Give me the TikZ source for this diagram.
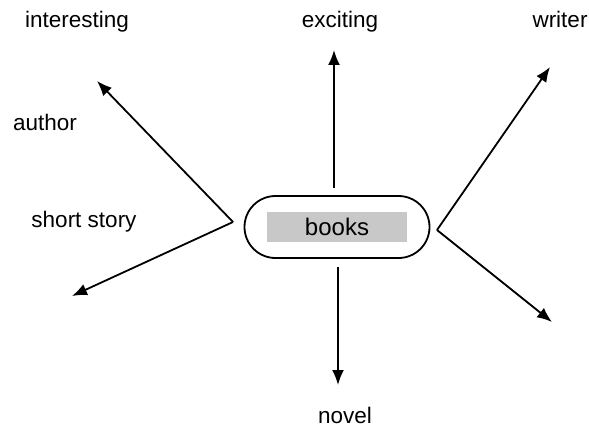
\documentclass[tikz,border=0pt]{standalone}
\usepackage{fontspec}
\setmainfont{Liberation Sans}
\usetikzlibrary{arrows.meta, positioning}
\definecolor{shadegray}{RGB}{200,200,200}

\begin{document}
\begin{tikzpicture}[
      x=1pt, y=-1pt,
      pill/.style={rectangle, rounded corners=31pt, draw, line width=1.8pt,
        minimum width=185pt, minimum height=62pt, text centered,
        font=\fontsize{24}{28}\selectfont},
      shadebox/.style={rectangle, fill=shadegray,
        minimum width=140pt, minimum height=30pt},
      word/.style={anchor=base, inner sep=0pt, font=\fontsize{22.5}{27}\selectfont},
      arrow/.style={-{Latex[length=15pt, width=12pt]}, line width=1.8pt}
    ]
      \useasboundingbox (0,0) rectangle (589,428);

      % Center
      \node[shadebox] (shade) at (337,227) {};
      \node[pill] (books) at (337,227) {books};

      % Words
      \node[word] (interesting) at (77,28) {interesting};
      \node[word] (exciting) at (340,28) {exciting};
      \node[word] (writer) at (560,28) {writer};
      \node[word] (author) at (45,130) {author};
      \node[word] (shortstory) at (84,227) {short story};
      \node[word] (novel) at (345,423) {novel};

      % Branch points and arrow ends
      \coordinate (lapex) at (233,222);
      \coordinate (rapex) at (437,230);
      \coordinate (upstart) at (334,188);
      \coordinate (downstart) at (338,267);
      \coordinate (tipint) at (97,81);
      \coordinate (tipshort) at (72,296);
      \coordinate (tipup) at (334,50);
      \coordinate (tipdown) at (338,385);
      \coordinate (tipwriter) at (550,67);
      \coordinate (tiplr) at (552,322);

      % Connections
      \draw[arrow] (lapex) -- (tipint);
      \draw[arrow] (lapex) -- (tipshort);
      \draw[arrow] (upstart) -- (tipup);
      \draw[arrow] (downstart) -- (tipdown);
      \draw[arrow] (rapex) -- (tipwriter);
      \draw[arrow] (rapex) -- (tiplr);
    \end{tikzpicture}
\end{document}
